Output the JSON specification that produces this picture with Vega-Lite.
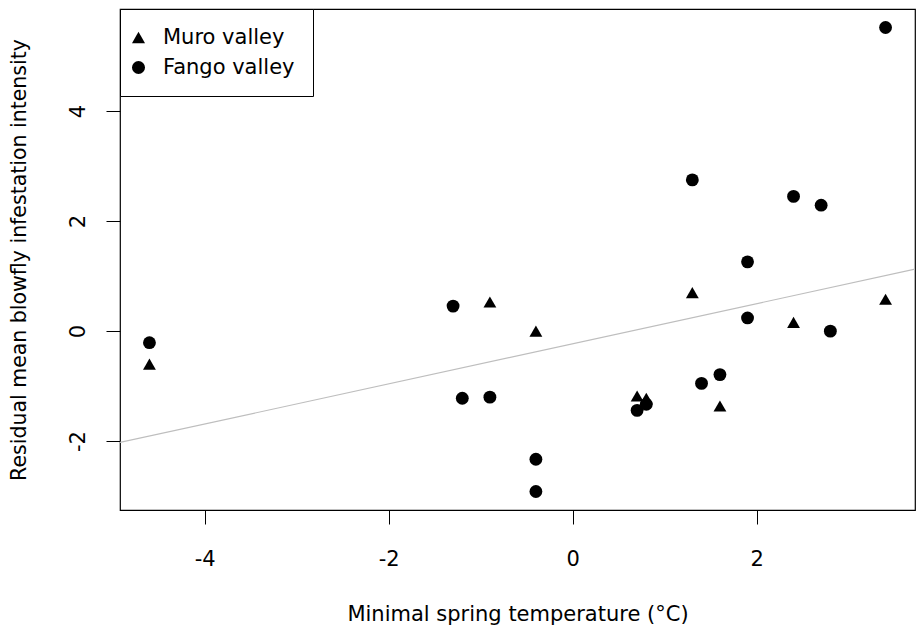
{
  "$schema": "https://vega.github.io/schema/vega-lite/v6.json",
  "width": 795,
  "height": 501,
  "autosize": {"type": "none"},
  "padding": {"left": 120, "top": 9, "right": 1, "bottom": 117},
  "background": "white",
  "config": {
    "view": {"stroke": "black", "strokeWidth": 1.2},
    "font": "DejaVu Sans"
  },
  "encoding": {
    "x": {
      "field": "x",
      "type": "quantitative",
      "scale": {"domain": [-4.92, 3.72], "nice": false, "zero": false},
      "axis": {
        "title": "Minimal spring temperature (°C)",
        "values": [-4, -2, 0, 2],
        "grid": false,
        "domain": false,
        "tickColor": "black",
        "tickSize": 14,
        "tickWidth": 1,
        "labelFontSize": 21,
        "labelColor": "black",
        "labelBaseline": "alphabetic",
        "labelPadding": 41,
        "labelFlush": false,
        "labelOverlap": false,
        "labelExpr": "toString(datum.value)",
        "titleFontSize": 21,
        "titleFontWeight": "normal",
        "titleColor": "black",
        "titleBaseline": "alphabetic",
        "titleY": 110
      }
    },
    "y": {
      "field": "y",
      "type": "quantitative",
      "scale": {"domain": [-3.252, 5.857], "nice": false, "zero": false},
      "axis": {
        "title": "Residual mean blowfly infestation intensity",
        "values": [-2, 0, 2, 4],
        "grid": false,
        "domain": false,
        "tickColor": "black",
        "tickSize": 14,
        "tickWidth": 1,
        "labelFontSize": 21,
        "labelColor": "black",
        "labelAngle": 270,
        "labelAlign": "center",
        "labelBaseline": "alphabetic",
        "labelPadding": 22,
        "labelFlush": false,
        "labelOverlap": false,
        "labelExpr": "toString(datum.value)",
        "titleFontSize": 20.5,
        "titleFontWeight": "normal",
        "titleColor": "black",
        "titleAngle": 270,
        "titleBaseline": "alphabetic",
        "titleX": -95
      }
    }
  },
  "layer": [
    {
      "data": {"values": [{"x": -4.92, "y": -2.024}, {"x": 3.72, "y": 1.127}]},
      "mark": {"type": "line", "color": "#bebebe", "strokeWidth": 1.2, "clip": true}
    },
    {
      "data": {
        "values": [
          {"valley": "Muro valley", "x": -4.6, "y": -0.6},
          {"valley": "Muro valley", "x": -0.9, "y": 0.53},
          {"valley": "Muro valley", "x": -0.4, "y": 0.0},
          {"valley": "Muro valley", "x": 0.7, "y": -1.18},
          {"valley": "Muro valley", "x": 0.8, "y": -1.22},
          {"valley": "Muro valley", "x": 1.3, "y": 0.7},
          {"valley": "Muro valley", "x": 1.6, "y": -1.36},
          {"valley": "Muro valley", "x": 2.4, "y": 0.16},
          {"valley": "Muro valley", "x": 3.4, "y": 0.58},
          {"valley": "Fango valley", "x": -4.6, "y": -0.21},
          {"valley": "Fango valley", "x": -1.3, "y": 0.455},
          {"valley": "Fango valley", "x": -1.2, "y": -1.22},
          {"valley": "Fango valley", "x": -0.9, "y": -1.2},
          {"valley": "Fango valley", "x": -0.4, "y": -2.33},
          {"valley": "Fango valley", "x": -0.4, "y": -2.915},
          {"valley": "Fango valley", "x": 0.7, "y": -1.44},
          {"valley": "Fango valley", "x": 0.8, "y": -1.33},
          {"valley": "Fango valley", "x": 1.3, "y": 2.75},
          {"valley": "Fango valley", "x": 1.4, "y": -0.95},
          {"valley": "Fango valley", "x": 1.6, "y": -0.79},
          {"valley": "Fango valley", "x": 1.9, "y": 1.26},
          {"valley": "Fango valley", "x": 1.9, "y": 0.24},
          {"valley": "Fango valley", "x": 2.4, "y": 2.45},
          {"valley": "Fango valley", "x": 2.7, "y": 2.29},
          {"valley": "Fango valley", "x": 2.8, "y": 0.0},
          {"valley": "Fango valley", "x": 3.4, "y": 5.52}
        ]
      },
      "mark": {"type": "point", "filled": true, "color": "black", "opacity": 1, "size": 165},
      "encoding": {
        "shape": {
          "field": "valley",
          "type": "nominal",
          "scale": {"domain": ["Muro valley", "Fango valley"], "range": ["triangle-up", "circle"]},
          "legend": {
            "title": null,
            "orient": "none",
            "legendX": 0,
            "legendY": 0,
            "strokeColor": "black",
            "fillColor": "white",
            "cornerRadius": 0,
            "padding": 18,
            "rowPadding": 8,
            "labelFontSize": 21,
            "labelColor": "black",
            "labelOffset": 14,
            "symbolOffset": -10,
            "symbolSize": 170,
            "symbolFillColor": "black",
            "symbolStrokeColor": "black",
            "symbolStrokeWidth": 0,
            "symbolOpacity": 1
          }
        }
      }
    }
  ]
}
